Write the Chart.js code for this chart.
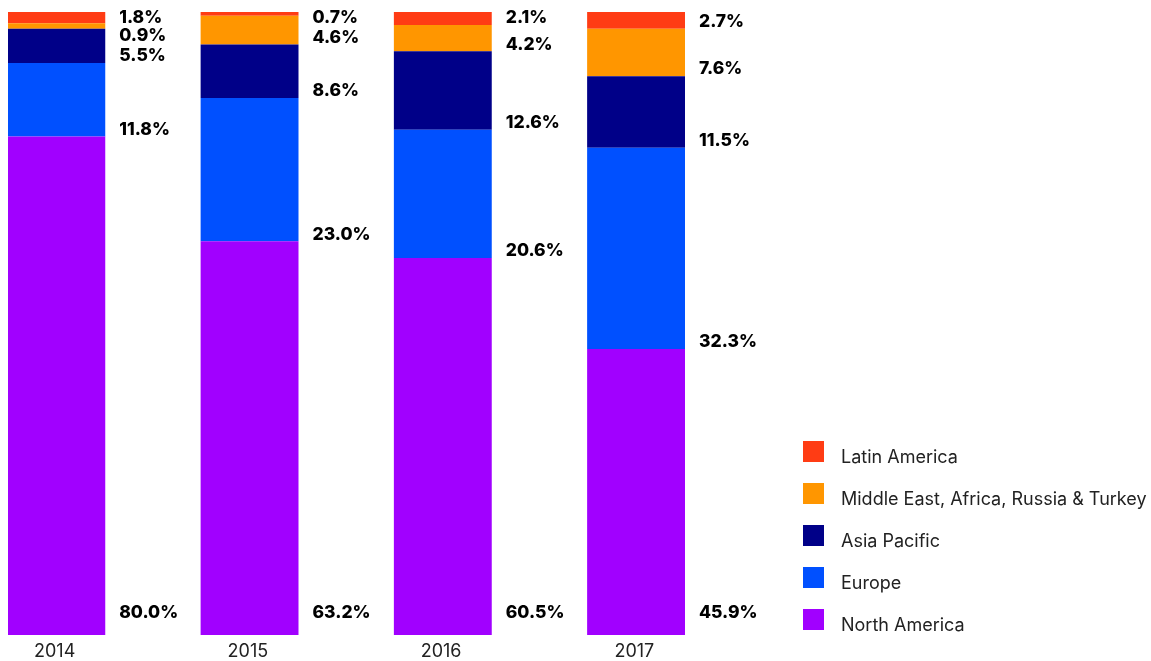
<!DOCTYPE html>
<html><head><meta charset="utf-8">
<script src="https://cdn.jsdelivr.net/npm/chart.js@4/dist/chart.umd.min.js"></script>
<style>html,body{margin:0;padding:0;background:#fff}</style>
</head><body>
<canvas id="c" width="1151" height="661"></canvas>
<script>
const years = ['2014', '2015', '2016', '2017'];
const northAmerica = [80.0, 63.2, 60.5, 45.9];
const europe = [11.8, 23.0, 20.6, 32.3];
const asiaPacific = [5.5, 8.6, 12.6, 11.5];
const middleEastAfrica = [0.9, 4.6, 4.2, 7.6];
const latinAmerica = [1.8, 0.7, 2.1, 2.7];
const seriesNames = ['North America', 'Europe', 'Asia Pacific', 'Middle East, Africa, Russia & Turkey', 'Latin America'];
const seriesData = [northAmerica, europe, asiaPacific, middleEastAfrica, latinAmerica];
const seriesColors = ['#A100FF', '#0050FF', '#000088', '#FF9600', '#FF3C14'];

const FONT = 'Inter, "Noto Sans", sans-serif';

const datasets = seriesData.map((arr, i) => ({
  label: seriesNames[i],
  data: arr,
  backgroundColor: seriesColors[i],
  borderWidth: 0,
  stack: 'main'
}));
// empty companion stack that reserves the label space to the right of each bar
datasets.push({ label: '', data: years.map(() => 0), backgroundColor: 'rgba(0,0,0,0)', borderWidth: 0, stack: 'space' });

// value labels beside each segment, near the segment's lower edge; resolved top-down so they never collide
const labelPlugin = {
  id: 'segLabels',
  afterDatasetsDraw(chart) {
    const ctx = chart.ctx;
    const area = chart.chartArea;
    ctx.save();
    ctx.font = '800 17.5px ' + FONT;
    ctx.fillStyle = '#000';
    ctx.textBaseline = 'middle';
    ctx.textAlign = 'left';
    years.forEach((yr, i) => {
      let prev = area.top + 6 - 17.5;
      for (let d = seriesData.length - 1; d >= 0; d--) {
        const el = chart.getDatasetMeta(d).data[i];
        let ly = el.base - (d === 0 ? 22 : 7);
        if (ly < prev + 17.5) ly = prev + 17.5;
        prev = ly;
        ctx.fillText(seriesData[d][i].toFixed(1) + '%', el.x + el.width / 2 + 14, ly);
      }
    });
    ctx.restore();
  }
};

// legend drawn at the right of the plot, entries in reverse (top of stack first)
const legendPlugin = {
  id: 'sideLegend',
  afterDraw(chart) {
    const ctx = chart.ctx;
    const area = chart.chartArea;
    const x0 = area.right + 22;
    const rowH = 42;
    const n = seriesNames.length;
    const yTop = area.bottom - n * rowH + 16;
    ctx.save();
    ctx.font = '400 18px ' + FONT;
    ctx.textBaseline = 'alphabetic';
    ctx.textAlign = 'left';
    for (let j = 0; j < n; j++) {
      const d = n - 1 - j;
      const y = yTop + j * rowH;
      ctx.fillStyle = seriesColors[d];
      ctx.fillRect(x0, y, 21, 21);
      ctx.fillStyle = '#222';
      ctx.fillText(seriesNames[d], x0 + 38, y + 22);
    }
    ctx.restore();
  }
};

new Chart(document.getElementById('c'), {
  type: 'bar',
  data: { labels: years, datasets },
  options: {
    responsive: false,
    animation: false,
    devicePixelRatio: 1,
    layout: { padding: { top: 12, bottom: 0, left: 8, right: 370 } },
    datasets: { bar: { categoryPercentage: 1, barPercentage: 1.013 } },
    plugins: {
      legend: { display: false },
      tooltip: { enabled: false }
    },
    scales: {
      x: {
        grid: { display: false, drawTicks: false },
        border: { display: false },
        ticks: { color: '#222', font: { family: FONT, size: 18 }, padding: 6, labelOffset: -50, maxRotation: 0 },
        afterFit: (scale) => { scale.height = 26; }
      },
      y: {
        display: false,
        stacked: true,
        min: 0,
        max: 100
      }
    }
  },
  plugins: [labelPlugin, legendPlugin]
});
</script>
</body></html>
